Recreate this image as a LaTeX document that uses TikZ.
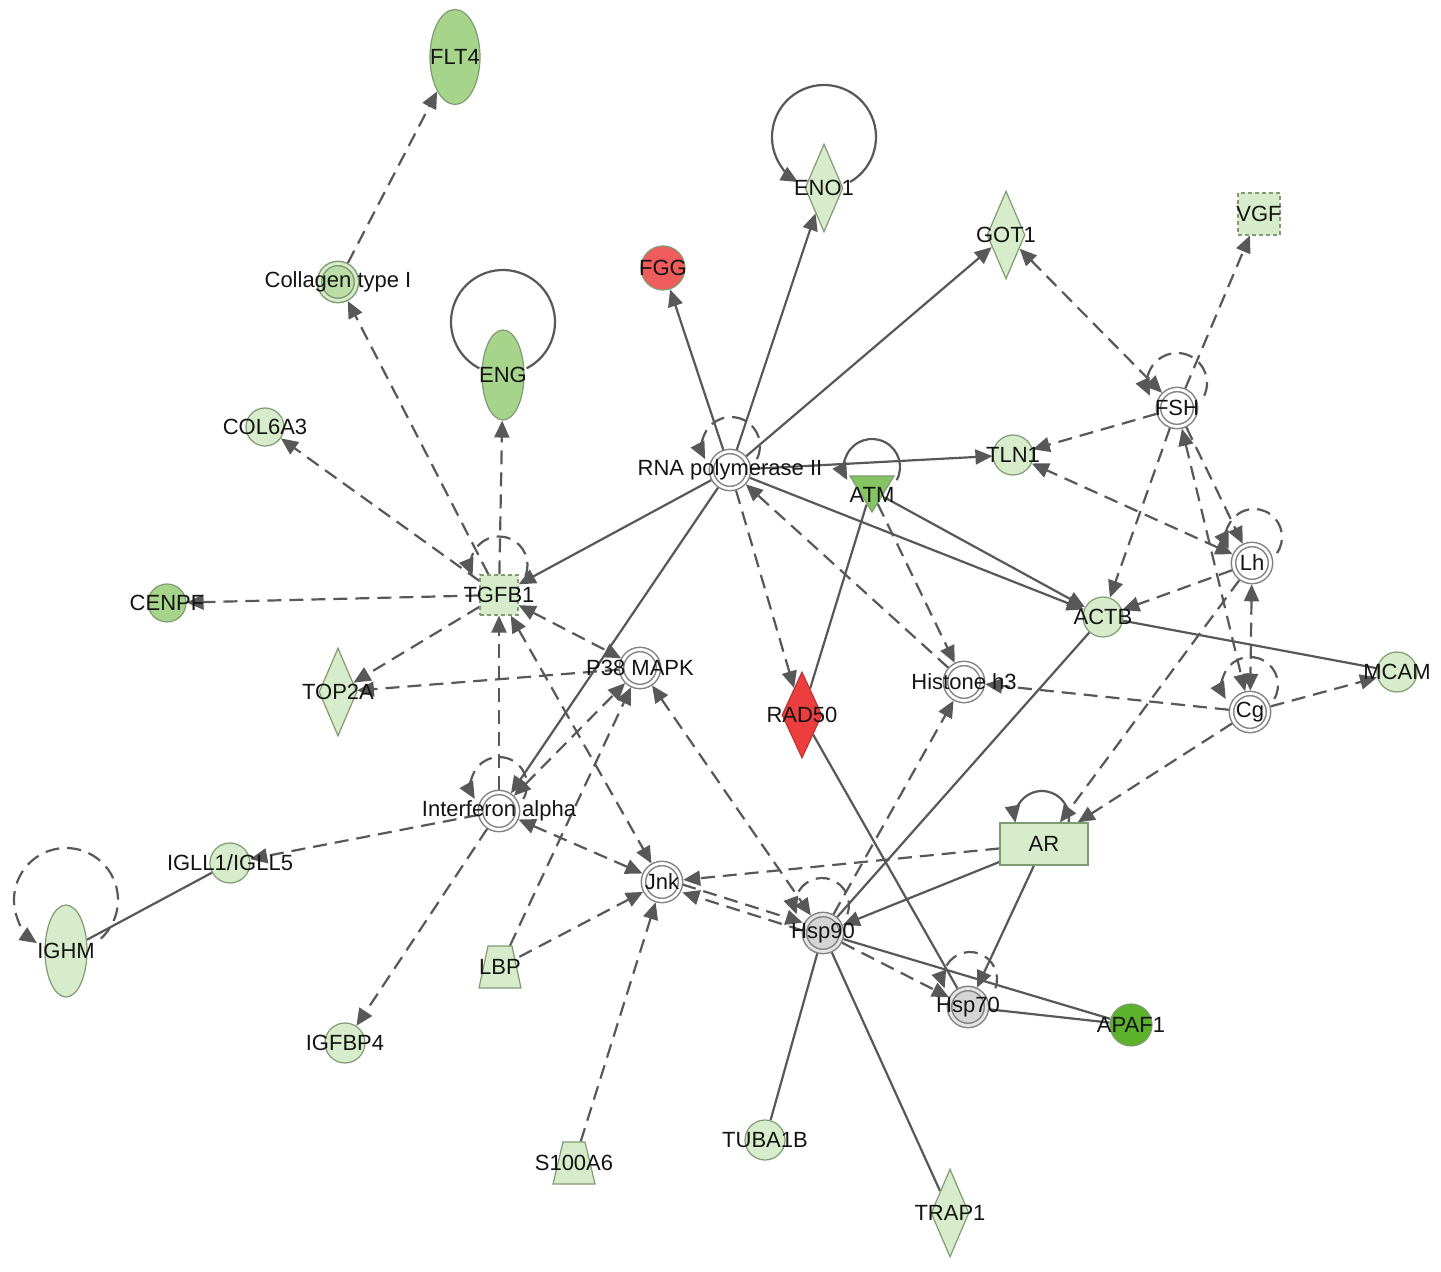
\documentclass[tikz,border=0pt]{standalone}
\usepackage{fontspec}
\setmainfont{Liberation Sans}
\usetikzlibrary{shapes.geometric,arrows.meta,calc}
\definecolor{lg}{RGB}{214,236,202}
\definecolor{mg}{RGB}{166,212,138}
\definecolor{cg}{RGB}{186,222,165}
\definecolor{atmg}{RGB}{132,196,98}
\definecolor{dg}{RGB}{92,178,42}
\definecolor{rd}{RGB}{236,62,62}
\definecolor{rd2}{RGB}{238,92,92}
\definecolor{ln}{RGB}{88,88,88}
\definecolor{nb}{RGB}{128,155,115}
\definecolor{ring}{RGB}{130,130,130}
\definecolor{hs}{RGB}{212,212,212}
\pgfdeclarelayer{paper}\pgfdeclarelayer{bg}\pgfsetlayers{paper,bg,main}
\begin{document}
\begin{tikzpicture}[x=0.5pt,y=0.5pt,
  >={Triangle[length=8.5pt,width=7.5pt]},
  every node/.style={font=\fontsize{11}{13}\selectfont},
  gn/.style={draw=nb, line width=0.6pt, inner sep=0pt, outer sep=0.3pt},
  circ/.style={gn, circle, minimum size=20pt},
  dcirc/.style={circle, draw=ring, line width=0.75pt, double=white, double distance=1.4pt, fill=white, minimum size=18.5pt, inner sep=0pt, outer sep=1.4pt},
  dia/.style={gn, diamond, minimum width=19pt, minimum height=44pt},
  ell/.style={gn, ellipse, minimum width=21pt, minimum height=45pt},
  trapbox/.style={rectangle, inner sep=0pt, minimum width=19pt, minimum height=21pt},
  trapshape/.style={fill=lg, draw=nb, line width=0.6pt},
  box/.style={gn, rectangle},
  dbox/.style={gn, rectangle, dash pattern=on 2pt off 1.5pt},
  lbl/.style={inner sep=0pt, text=black!92},
  dl/.style={draw=ln, line width=1.1pt, dash pattern=on 7pt off 4pt},
  sl/.style={draw=ln, line width=1.1pt},
]
\begin{pgfonlayer}{paper}
\fill[white] (0,0) rectangle (1441,-1272);
\end{pgfonlayer}
\useasboundingbox (0,0) rectangle (1441,-1272);

% nodes
\node[dcirc,label={[lbl]center:RNA polymerase II}] (RNA) at (730,-470) {};
\node[circ,fill=rd2,minimum size=22pt,label={[lbl]center:FGG}] (FGG) at (663,-268) {};
\node[dia,fill=lg,label={[lbl]center:ENO1}] (ENO1) at (824,-188) {};
\node[dia,fill=lg,label={[lbl]center:GOT1}] (GOT1) at (1006,-235) {};
\node[dbox,fill=lg,minimum size=21pt,label={[lbl]center:VGF}] (VGF) at (1259,-214) {};
\node[ell,fill=mg,minimum width=25pt,minimum height=47.5pt,label={[lbl]center:FLT4}] (FLT4) at (455,-57) {};
\node[dcirc,draw=nb,double=cg!55,fill=cg,label={[lbl]center:Collagen type I}] (COLL) at (338,-282) {};
\node[ell,fill=mg,label={[lbl]center:ENG}] (ENG) at (503,-375) {};
\node[circ,fill=lg,minimum size=19pt,label={[lbl]center:COL6A3}] (COL6A3) at (265,-427) {};
\node[circ,fill=mg,minimum size=19pt,label={[lbl]center:CENPF}] (CENPF) at (167,-603) {};
\node[dbox,fill=lg,minimum width=19pt,minimum height=20pt,label={[lbl]center:TGFB1}] (TGFB1) at (499,-595) {};
\node[dia,fill=lg,label={[lbl]center:TOP2A}] (TOP2A) at (338,-692) {};
\node[dcirc,label={[lbl]center:P38 MAPK}] (P38) at (640,-668) {};
\node[dcirc,label={[lbl]center:Interferon alpha}] (IFN) at (499,-811) {};
\node[circ,fill=lg,label={[lbl]center:IGLL1/IGLL5}] (IGLL) at (230,-863) {};
\node[ell,fill=lg,minimum height=46pt,label={[lbl]center:IGHM}] (IGHM) at (66,-951) {};
\node[circ,fill=lg,label={[lbl]center:IGFBP4}] (IGFBP4) at (345,-1043) {};
\node[trapbox] (LBP) at (500,-967) {};
\filldraw[trapshape] (479,-988) -- (521,-988) -- (512,-946) -- (488,-946) -- cycle;
\node[lbl] (LBPlbl) at (500,-967) {LBP};
\node[dcirc,label={[lbl]center:Jnk}] (JNK) at (662,-882) {};
\node[trapbox] (S100) at (574,-1163) {};
\filldraw[trapshape] (553,-1184) -- (595,-1184) -- (585,-1142) -- (563,-1142) -- cycle;
\node[lbl] (S100lbl) at (574,-1163) {S100A6};
\node[circ,fill=lg,label={[lbl]center:TUBA1B}] (TUBA) at (765,-1140) {};
\node[dia,fill=lg,label={[lbl]center:TRAP1}] (TRAP1) at (950,-1213) {};
\node[dcirc,fill=hs,double=hs!60,label={[lbl]center:Hsp90}] (HSP90) at (823,-933) {};
\node[dcirc,fill=hs,double=hs!60,label={[lbl]center:Hsp70}] (HSP70) at (968,-1007) {};
\node[circ,fill=dg,minimum size=21pt,label={[lbl]center:APAF1}] (APAF1) at (1131,-1025) {};
\node[box,fill=lg,minimum width=44pt,minimum height=21pt,label={[lbl]center:AR}] (AR) at (1044,-844) {};
\node[dia,fill=rd,draw=rd!80!black,minimum width=20pt,minimum height=43pt,label={[lbl]center:RAD50}] (RAD50) at (802,-715) {};
\node[dcirc,label={[lbl]center:Histone h3}] (HIS) at (964,-682) {};
\node[circle,inner sep=0pt,minimum size=15pt] (ATM) at (871,-490) {};
\filldraw[fill=atmg,draw=nb,line width=0.6pt] (850,-476) -- (894,-476) -- (872,-512) -- cycle;
\draw[sl,->] ($(ATM.center)+(1,23)$) ++(-28:28) arc[start angle=-28,end angle=208,radius=28];
\node[lbl] (ATMlbl) at (872,-495) {ATM};
\node[circ,fill=lg,label={[lbl]center:TLN1}] (TLN1) at (1013,-455) {};
\node[circ,fill=lg,label={[lbl]center:ACTB}] (ACTB) at (1103,-617) {};
\node[dcirc,label={[lbl]center:FSH}] (FSH) at (1177,-408) {};
\node[dcirc,label={[lbl]center:Lh}] (LH) at (1252,-563) {};
\node[dcirc,label={[lbl]center:Cg}] (CG) at (1250,-712) {};
\node[circ,fill=lg,label={[lbl]center:MCAM}] (MCAM) at (1397,-672) {};

\begin{pgfonlayer}{bg}
% dashed connectors
\draw[dl,->] (COLL) -- (FLT4);
\draw[dl,->] (TGFB1) -- (COLL);
\draw[dl,->] (TGFB1) -- (ENG);
\draw[dl,->] (TGFB1) -- (COL6A3);
\draw[dl,->] (TGFB1) -- (CENPF);
\draw[dl,->] (TGFB1) -- (TOP2A);
\draw[dl,->] (P38) -- (TOP2A);
\draw[dl,<->] (TGFB1) -- (P38);
\draw[dl,->] (IFN) -- (TGFB1);
\draw[dl,<->] (TGFB1) -- (JNK);
\draw[dl,<->] (IFN) -- (P38);
\draw[dl,->] (LBP) -- (P38);
\draw[dl,<->] (P38) -- (HSP90);
\draw[dl,->] (RNA) -- (RAD50);
\draw[dl,->] (HIS) -- (RNA);
\draw[dl,->] (ATM) -- (HIS);
\draw[dl,<->] (GOT1) -- (FSH);
\draw[dl,->] (FSH) -- (VGF);
\draw[dl,->] (FSH) -- (TLN1);
\draw[dl,<->] (LH) -- (TLN1);
\draw[dl,->] (FSH) -- (ACTB);
\draw[dl,->] (FSH) -- (LH);
\draw[dl,<->] (FSH) -- (CG);
\draw[dl,<->] (LH) -- (CG);
\draw[dl,->] (LH) -- (ACTB);
\draw[dl,->] (LH) -- (AR);
\draw[dl,->] (CG) -- (AR);
\draw[dl,->] (CG) -- (MCAM);
\draw[dl,->] (CG) -- (HIS);
\draw[dl,->] (HSP90) -- (HIS);
\draw[dl,->] (AR) -- (JNK);
\draw[dl,->,transform canvas={yshift=2pt}] (JNK) -- (HSP90);
\draw[dl,->,transform canvas={yshift=-2pt}] (HSP90) -- (JNK);
\draw[dl,<->] (IFN) -- (JNK);
\draw[dl,->] (IFN) -- (IGLL);
\draw[dl,->] (IFN) -- (IGFBP4);
\draw[dl,->] (LBP) -- (JNK);
\draw[dl,->] (S100) -- (JNK);
\draw[dl,->] (HSP90) -- (HSP70);
% solid connectors
\draw[sl,->] (RNA) -- (TGFB1);
\draw[sl,->] (RNA) -- (IFN);
\draw[sl,->] (RNA) -- (FGG);
\draw[sl,->] (RNA) -- (ENO1);
\draw[sl,->] (RNA) -- (GOT1);
\draw[sl,->] (RNA) -- (TLN1);
\draw[sl,->] (RNA) -- (ACTB);
\draw[sl,->] (ATM) -- (ACTB);
\draw[sl] (RAD50) -- (ATM);
\draw[sl] (RAD50) -- (HSP70);
\draw[sl] (ACTB) -- (MCAM);
\draw[sl] (ACTB) -- (HSP90);
\draw[sl,->] (AR) -- (HSP90);
\draw[sl,->] (AR) -- (HSP70);
\draw[sl] (HSP90) -- (APAF1);
\draw[sl] (HSP70) -- (APAF1);
\draw[sl] (HSP90) -- (TUBA);
\draw[sl] (HSP90) -- (TRAP1);
\draw[sl] (IGLL) -- (IGHM);
% self loops
\draw[sl,->] ($(ENO1.center)+(0,51)$) ++(-60:52) arc[start angle=-60,end angle=240,radius=52];
\draw[sl] ($(ENG.center)+(0,53)$) ++(-63:52) arc[start angle=-63,end angle=243,radius=52];
\draw[dl,->] ($(RNA.center)+(1,24)$) ++(-27:29) arc[start angle=-27,end angle=207,radius=29];
\draw[dl,->] ($(TGFB1.center)+(0,30)$) ++(-22:28.5) arc[start angle=-22,end angle=202,radius=28.5];
\draw[dl,->] ($(IFN.center)+(0,26)$) ++(-30:28) arc[start angle=-30,end angle=210,radius=28];
\draw[dl,->] ($(FSH.center)+(0,25)$) ++(-25:30) arc[start angle=-25,end angle=205,radius=30];
\draw[dl,->] ($(LH.center)+(2,26)$) ++(-35:28) arc[start angle=-35,end angle=205,radius=28];
\draw[dl,->] ($(CG.center)+(0,27)$) ++(-30:28) arc[start angle=-30,end angle=210,radius=28];
\draw[dl,->] ($(HSP90.center)+(-1,28)$) ++(-20:27) arc[start angle=-20,end angle=200,radius=27];
\draw[dl,->] ($(HSP70.center)+(2,28)$) ++(-20:27) arc[start angle=-20,end angle=200,radius=27];
\draw[sl,->] ($(AR.center)+(-2,26)$) ++(-10:27) arc[start angle=-10,end angle=190,radius=27];
\draw[dl,->] ($(IGHM.center)+(0,51)$) ++(-48:52) arc[start angle=-48,end angle=236,radius=52];
\end{pgfonlayer}
\end{tikzpicture}
\end{document}
